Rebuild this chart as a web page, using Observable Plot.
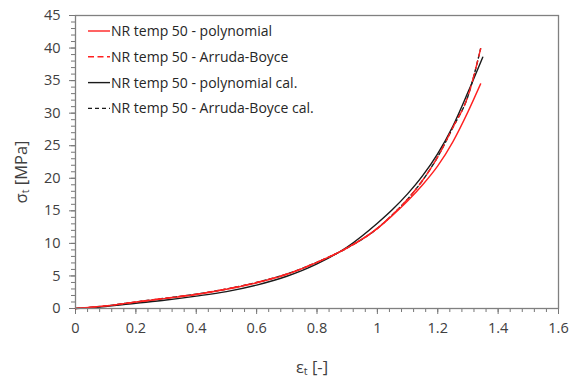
<!DOCTYPE html>
<html>
<head>
<meta charset="utf-8">
<script src="https://cdn.jsdelivr.net/npm/d3@7"></script>
<script src="https://cdn.jsdelivr.net/npm/@observablehq/plot@0.6"></script>
<style>
  html, body { margin: 0; padding: 0; background: #fff; }
  #chart { width: 575px; height: 383px; }
</style>
</head>
<body>
<div id="chart"></div>
<script>
// Strain values (x) for each series
const epsPoly    = [0, 0.1, 0.2, 0.3, 0.4, 0.5, 0.6, 0.7, 0.8, 0.9, 1.0, 1.05, 1.1, 1.15, 1.2, 1.25, 1.3, 1.342];
const epsArruda  = [0, 0.1, 0.2, 0.3, 0.4, 0.5, 0.6, 0.7, 0.8, 0.9, 1.0, 1.05, 1.1, 1.15, 1.2, 1.25, 1.3, 1.342];
const epsPolyCal = [0, 0.1, 0.2, 0.3, 0.4, 0.5, 0.6, 0.7, 0.8, 0.9, 1.0, 1.05, 1.1, 1.15, 1.2, 1.25, 1.3, 1.349];
const epsArrudaCal = [0, 0.1, 0.2, 0.3, 0.4, 0.5, 0.6, 0.7, 0.8, 0.9, 1.0, 1.05, 1.1, 1.15, 1.2, 1.25, 1.3, 1.342];

// Stress values (MPa)
const sigPoly      = [0, 0.4, 1.0, 1.55, 2.15, 2.95, 3.95, 5.25, 7.1, 9.3, 12.3, 14.3, 16.5, 19.0, 21.9, 25.6, 30.2, 34.5];
const sigArruda    = [0, 0.4, 1.0, 1.6, 2.2, 3.0, 4.0, 5.3, 7.1, 9.3, 12.3, 14.4, 16.8, 19.7, 23.3, 27.8, 32.6, 39.9];
const sigPolyCal   = [0, 0.3, 0.8, 1.3, 1.9, 2.6, 3.6, 4.95, 6.85, 9.45, 13.1, 15.2, 17.6, 20.4, 23.8, 28.0, 33.2, 38.6];
const sigArrudaCal = [0, 0.4, 1.0, 1.6, 2.2, 3.0, 4.0, 5.3, 7.1, 9.3, 12.3, 14.4, 16.8, 19.7, 23.3, 27.8, 32.6, 39.9];

const seriesNames = [
  "NR temp 50 - polynomial",
  "NR temp 50 - Arruda-Boyce",
  "NR temp 50 - polynomial cal.",
  "NR temp 50 - Arruda-Boyce cal."
];

const xMajor = [0, 0.2, 0.4, 0.6, 0.8, 1, 1.2, 1.4, 1.6];
const yMajor = [0, 5, 10, 15, 20, 25, 30, 35, 40, 45];
const xMinor = d3.range(0, 1.6001, 0.04);
const yMinor = d3.range(0, 46, 1);

const styles = [
  {stroke: "#ff2020", dash: null},
  {stroke: "#ff2020", dash: "8,5"},
  {stroke: "#1a1a1a", dash: null},
  {stroke: "#1a1a1a", dash: "4,3"}
];

const mk = (xs, ys) => xs.map((x, i) => ({x, y: ys[i]}));
const data = [
  mk(epsPoly, sigPoly),
  mk(epsArruda, sigArruda),
  mk(epsPolyCal, sigPolyCal),
  mk(epsArrudaCal, sigArrudaCal)
];

const drawOrder = [3, 2, 0, 1];
const textColor = "#404040";
const font = "'Open Sans', 'Liberation Sans', sans-serif";

const plot = Plot.plot({
  width: 575,
  height: 383,
  marginLeft: 75,
  marginRight: 17,
  marginTop: 15,
  marginBottom: 75,
  style: {fontFamily: font, fontSize: "14px", color: textColor, background: "#fff"},
  x: {domain: [0, 1.6], label: null},
  y: {domain: [0, 45], label: null},
  marks: [
    Plot.axisY(yMinor, {tickSize: 4, text: null, stroke: "#777", label: null}),
    Plot.axisY(yMajor, {tickSize: 6, tickPadding: 9, stroke: "#777", fill: textColor, fontSize: 14.5, label: null, tickFormat: d => d}),
    Plot.axisX(xMinor, {tickSize: 4, text: null, stroke: "#777", label: null}),
    Plot.axisX(xMajor, {tickSize: 6, tickPadding: 8, stroke: "#777", fill: textColor, fontSize: 14.5, label: null, tickFormat: d => String(d)}),
    ...drawOrder.map(i => Plot.line(data[i], {
      x: "x", y: "y",
      stroke: styles[i].stroke,
      strokeWidth: 1.4,
      strokeDasharray: styles[i].dash,
      curve: "monotone-x"
    })),
    Plot.frame({stroke: "#808080", strokeWidth: 1.3})
  ]
});

document.getElementById("chart").appendChild(plot);

const svg = d3.select(plot);
// Axis titles
svg.append("text")
  .attr("transform", "translate(27,172) rotate(-90)")
  .attr("text-anchor", "middle")
  .attr("font-family", font)
  .attr("font-size", 16.5)
  .attr("fill", textColor)
  .text("σₜ [MPa]");
svg.append("text")
  .attr("x", 312)
  .attr("y", 373)
  .attr("text-anchor", "middle")
  .attr("font-family", font)
  .attr("font-size", 16.5)
  .attr("fill", textColor)
  .text("εₜ [-]");

// Legend
const lg = svg.append("g")
  .attr("font-family", font)
  .attr("font-size", 14)
  .attr("fill", "#262626")
  .attr("text-anchor", "start");
seriesNames.forEach((name, i) => {
  const y = 31 + i * 25.8;
  lg.append("line")
    .attr("x1", 88).attr("x2", 110).attr("y1", y).attr("y2", y)
    .attr("stroke", styles[i].stroke)
    .attr("stroke-width", 1.4)
    .attr("stroke-dasharray", i === 1 ? "6,3.5" : styles[i].dash);
  lg.append("text")
    .attr("x", 111).attr("y", y).attr("dy", "0.35em")
    .attr("text-anchor", "start")
    .text(name);
});
</script>
</body>
</html>
